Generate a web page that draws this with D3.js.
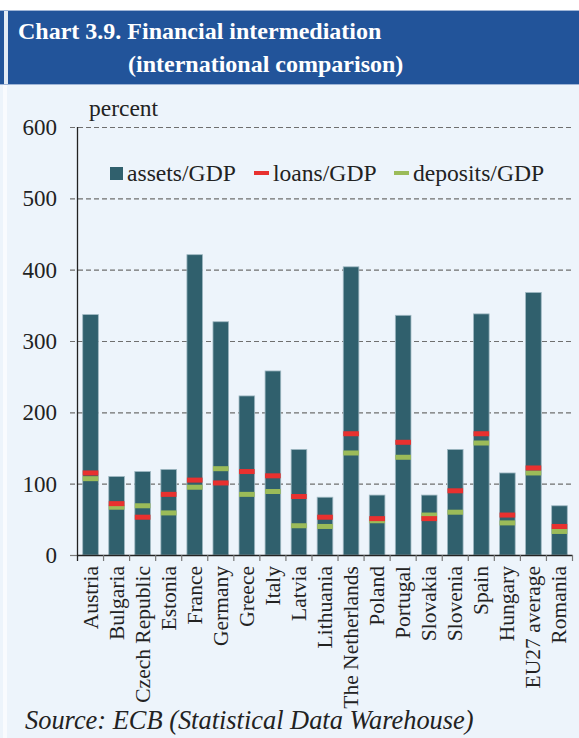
<!DOCTYPE html>
<html>
<head>
<meta charset="utf-8">
<script src="https://cdn.jsdelivr.net/npm/d3@7"></script>
<style>
  html, body { margin: 0; padding: 0; background: #ffffff; }
  svg { display: block; }
</style>
</head>
<body>
<script>
// Financial intermediation by country, percent of GDP
const categories = ["Austria", "Bulgaria", "Czech Republic", "Estonia", "France", "Germany",
  "Greece", "Italy", "Latvia", "Lithuania", "The Netherlands", "Poland", "Portugal",
  "Slovakia", "Slovenia", "Spain", "Hungary", "EU27 average", "Romania"];
const assetsGDP   = [337, 110, 117, 120, 421, 327, 223, 258, 148, 81, 404, 84, 336, 84, 148, 338, 115, 368, 69];
const loansGDP    = [115, 72, 53, 85, 105, 101, 117, 111, 82, 53, 170, 51, 158, 51, 90, 170, 56, 122, 40];
const depositsGDP = [107, 67, 69, 59, 95, 121, 85, 89, 41, 40, 143, 48, 137, 56, 60, 157, 45, 115, 33];
const yTicks = [0, 100, 200, 300, 400, 500, 600];
const seriesNames = ["assets/GDP", "loans/GDP", "deposits/GDP"];

const W = 579, H = 738;
const colBar = "#30606D", colLoan = "#E8312F", colDep = "#9BBB59";
const SERIF = "\"Liberation Serif\", serif";

const svg = d3.select("body").append("svg").attr("width", W).attr("height", H);

// text helper: every label gets its font set inline
function label(parent, txt, size, opts = {}) {
  const t = parent.append("text").text(txt)
    .style("font-family", SERIF).style("font-size", size + "px")
    .style("fill", opts.fill || "#222");
  if (opts.bold) t.style("font-weight", "bold");
  if (opts.italic) t.style("font-style", "italic");
  return t;
}

// panel background
svg.append("rect").attr("x", 0).attr("y", 0).attr("width", W).attr("height", H).attr("fill", "#ffffff");
svg.append("rect").attr("x", 0).attr("y", 85).attr("width", W).attr("height", H - 85).attr("fill", "#EDF4FB");
svg.append("rect").attr("x", 3).attr("y", 85).attr("width", 4).attr("height", H - 85).attr("fill", "#F9FBFE");

// title band
svg.append("rect").attr("x", 0).attr("y", 10).attr("width", W).attr("height", 75).attr("fill", "#9FB5D6");
svg.append("rect").attr("x", 0).attr("y", 11).attr("width", 4).attr("height", 73).attr("fill", "#22549A");
svg.append("rect").attr("x", 4).attr("y", 11).attr("width", 4).attr("height", 73).attr("fill", "#E3EBF5");
svg.append("rect").attr("x", 8).attr("y", 11).attr("width", W - 8).attr("height", 73).attr("fill", "#22549A");

label(svg, "Chart 3.9. Financial intermediation", 24, { bold: true, fill: "#ffffff" }).attr("x", 18).attr("y", 39);
label(svg, "(international comparison)", 24, { bold: true, fill: "#ffffff" }).attr("x", 128).attr("y", 72);

// scales
const x = d3.scaleBand().domain(categories).range([77.5, 572.5]).paddingInner(0.4).paddingOuter(0.2);
const y = d3.scaleLinear().domain([0, 600]).range([555, 127]);

// gridlines
svg.append("g").selectAll("line").data(yTicks.filter(d => d > 0)).join("line")
  .attr("x1", 70).attr("x2", 572.5)
  .attr("y1", d => y(d) + 0.5).attr("y2", d => y(d) + 0.5)
  .attr("stroke", "#6f6f6f").attr("stroke-width", 1.2).attr("stroke-dasharray", "5,3");

// y tick labels
const yLab = svg.append("g");
yTicks.forEach(v => {
  label(yLab, String(v), 23).attr("x", 57).attr("y", y(v) + 8).attr("text-anchor", "end");
});
svg.append("line").attr("x1", 70).attr("x2", 77.5).attr("y1", y(0) + 0.5).attr("y2", y(0) + 0.5)
  .attr("stroke", "#7a7a7a").attr("stroke-width", 1.2);

label(svg, "percent", 23.5).attr("x", 89).attr("y", 116);

// bars
svg.append("g").selectAll("rect").data(categories).join("rect")
  .attr("x", d => x(d)).attr("width", x.bandwidth())
  .attr("y", (d, i) => y(assetsGDP[i])).attr("height", (d, i) => y(0) - y(assetsGDP[i]))
  .attr("fill", colBar).attr("stroke", "#9FB8C2").attr("stroke-width", 0.8);

// deposits and loans markers
function markers(vals, col) {
  svg.append("g").selectAll("rect").data(categories).join("rect")
    .attr("x", d => x(d)).attr("width", x.bandwidth())
    .attr("y", (d, i) => y(vals[i]) - 2.5).attr("height", 5)
    .attr("fill", col);
}
markers(depositsGDP, colDep);
markers(loansGDP, colLoan);

// axis lines and category ticks
svg.append("line").attr("x1", 77.5).attr("x2", 77.5).attr("y1", y(600)).attr("y2", y(0) + 6)
  .attr("stroke", "#222").attr("stroke-width", 1.3);
svg.append("line").attr("x1", 77.5).attr("x2", 572.5).attr("y1", y(0) + 0.5).attr("y2", y(0) + 0.5)
  .attr("stroke", "#222").attr("stroke-width", 1.3);
const bounds = d3.range(1, categories.length + 1).map(i => 77.5 + i * x.step());
svg.append("g").selectAll("line").data(bounds).join("line")
  .attr("x1", d => d).attr("x2", d => d).attr("y1", y(0)).attr("y2", y(0) + 6)
  .attr("stroke", "#777").attr("stroke-width", 1.2);

// category labels
const xLab = svg.append("g");
categories.forEach(c => {
  label(xLab, c, 21.5)
    .attr("transform", `translate(${x(c) + x.bandwidth() / 2 + 7},${y(0) + 11}) rotate(-90)`)
    .attr("text-anchor", "end");
});

// legend
const leg = svg.append("g");
leg.append("rect").attr("x", 110).attr("y", 167).attr("width", 13).attr("height", 13).attr("fill", colBar);
label(leg, seriesNames[0], 23.6).attr("x", 127).attr("y", 181);
leg.append("rect").attr("x", 254).attr("y", 171).attr("width", 15).attr("height", 4).attr("fill", colLoan);
label(leg, seriesNames[1], 23.6).attr("x", 273).attr("y", 181);
leg.append("rect").attr("x", 394).attr("y", 171).attr("width", 15).attr("height", 4).attr("fill", colDep);
label(leg, seriesNames[2], 23.6).attr("x", 413).attr("y", 181);

// source note
label(svg, "Source: ECB (Statistical Data Warehouse)", 26.4, { italic: true }).attr("x", 25).attr("y", 729);
</script>
</body>
</html>
